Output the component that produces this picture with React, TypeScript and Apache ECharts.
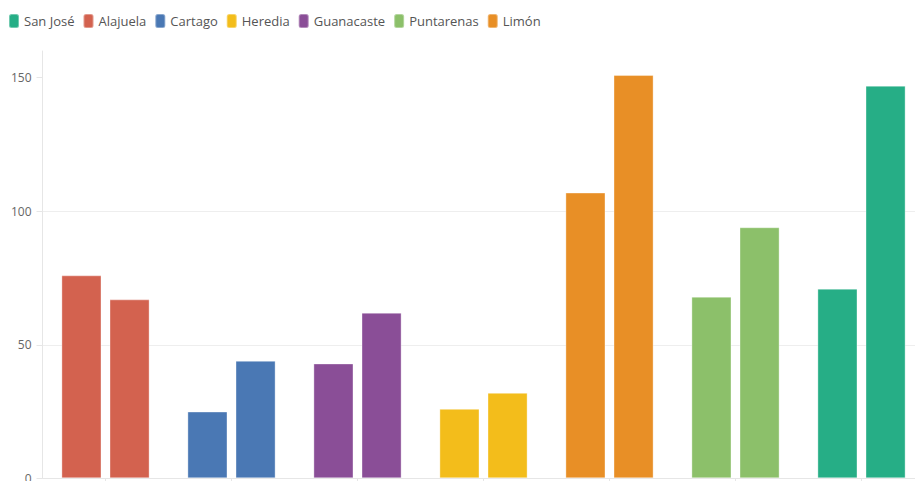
import React, { useEffect, useRef } from "react";
import * as echarts from "echarts";

const categories = ["Alajuela", "Cartago", "Guanacaste", "Heredia", "Limón", "Puntarenas", "San José"];
const legendOrder = ["San José", "Alajuela", "Cartago", "Heredia", "Guanacaste", "Puntarenas", "Limón"];
const firstValues = [76, 25, 43, 26, 107, 68, 71];
const secondValues = [67, 44, 62, 32, 151, 94, 147];
const colors = ["#d3624f", "#4a78b4", "#8a4e97", "#f3bd1b", "#e88f26", "#8cc06a", "#26ae86"];
const yTicks = [0, 50, 100, 150];

export default function App() {
  const ref = useRef<HTMLDivElement>(null);
  useEffect(() => {
    if (!ref.current) return;
    const chart = echarts.init(ref.current, undefined, { renderer: "svg" });
    const series: any[] = [];
    categories.forEach((name, i) => {
      [firstValues, secondValues].forEach((vals, k) => {
        series.push({
          type: "bar",
          name,
          stack: "s" + k,
          barCategoryGap: "30%",
          barGap: "20%",
          itemStyle: { color: colors[i], borderColor: "rgba(255,255,255,0.35)", borderWidth: 1 },
          data: categories.map((_, j) => (j === i ? vals[i] : "-")),
        });
      });
    });
    chart.setOption({
      animation: false,
      textStyle: { fontFamily: "Open Sans" },
      legend: {
        data: legendOrder,
        left: 8,
        top: 13,
        padding: 0,
        itemGap: 8,
        itemWidth: 10,
        itemHeight: 14,
        icon: "roundRect",
        textStyle: { fontSize: 13, color: "#555", fontFamily: "Open Sans" },
      },
      grid: { left: 42.5, right: -9.5, top: 51, bottom: 2.7, containLabel: false, outerBoundsMode: "none" },
      xAxis: {
        type: "category",
        data: categories,
        axisLine: { show: true, lineStyle: { color: "#e6e6e6" } },
        axisTick: { show: true, alignWithLabel: true, lineStyle: { color: "#e6e6e6" } },
        axisLabel: { show: false },
        splitLine: { show: false },
      },
      yAxis: {
        type: "value",
        min: 0,
        max: 160,
        interval: 50,
        axisLine: { show: true, lineStyle: { color: "#e6e6e6" } },
        axisTick: { show: true, length: 6, lineStyle: { color: "#e6e6e6" }, customValues: yTicks },
        axisLabel: { color: "#666", fontSize: 12, margin: 11, customValues: yTicks, fontFamily: "Open Sans" },
        splitLine: { show: true, showMaxLine: false, lineStyle: { color: "#eeeeee" } },
      },
      series,
    });
    return () => chart.dispose();
  }, []);
  return <div ref={ref} style={{ position: "absolute", left: 0, top: 0, width: 915, height: 481 }} />;
}
